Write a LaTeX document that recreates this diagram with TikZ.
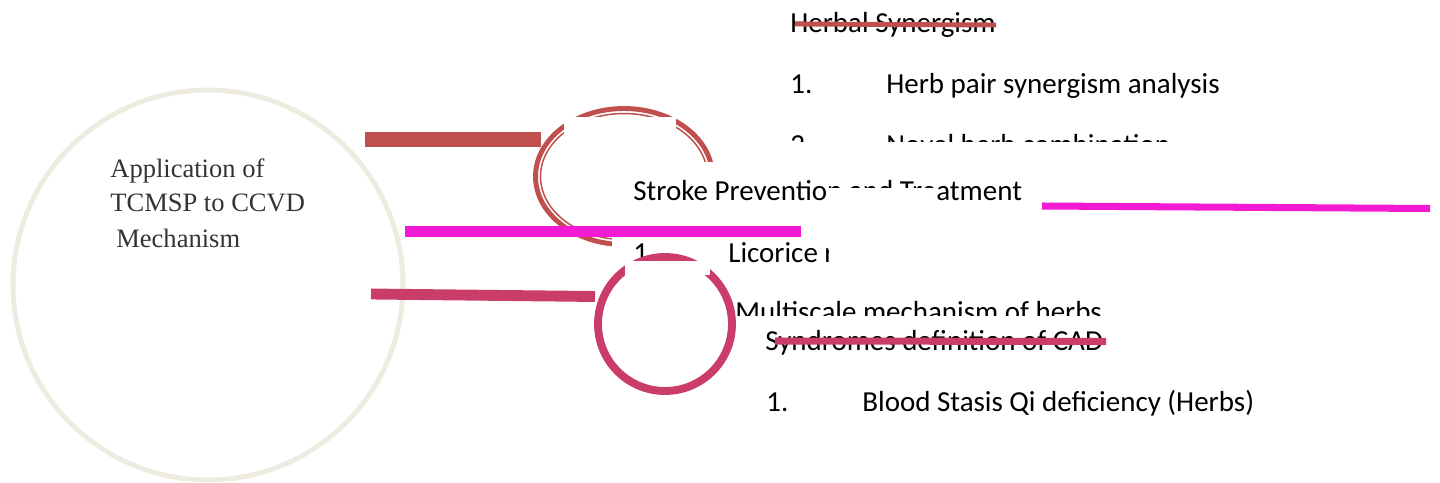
\documentclass[tikz,border=0pt]{standalone}
\usepackage{fontspec}
\setmainfont{Carlito}
\newfontfamily\serifface{Liberation Serif}
\usepackage{tikz}
\usetikzlibrary{positioning}
\usepackage{xcolor}
\definecolor{beige}{HTML}{EEECE1}
\definecolor{brick}{HTML}{C0504D}
\definecolor{fuchsia}{HTML}{F21AD2}
\definecolor{rosered}{HTML}{CB3D69}
\definecolor{inkgray}{HTML}{333333}

\tikzset{
    item/.style={anchor=base west, inner sep=0pt, font=\fontsize{16.5}{20}\selectfont},
    hub/.style={anchor=base west, inner sep=0pt, text=inkgray, font=\serifface\fontsize{15.1}{19.8}\selectfont},
    mask/.style={fill=white, draw=none}
}

\begin{document}
\begin{tikzpicture}[x=0.02cm, y=-0.02cm]
    \useasboundingbox (0, 0) rectangle (1440, 483);

    % Main circle
    \draw[beige, line width=2.8pt] (208, 285) circle[radius=3.9cm];
    \node[hub] (app1) at (110, 177) {Application of};
    \node[hub] (app2) at (110, 211) {TCMSP to CCVD};
    \node[hub] (app3) at (116, 247) {Mechanism};

    % Herbal synergism ring
    \draw[brick, line width=2.8pt] (624, 176.5) ellipse[x radius=1.77cm, y radius=1.36cm];
    \draw[brick, line width=0.85pt] (624, 176.5) ellipse[x radius=1.67cm, y radius=1.26cm];
    \fill[mask] (564, 117) rectangle (676, 137);

    % Stroke box
    \fill[mask] (612, 162) rectangle (1040, 250);
    \node[item] (stroke) at (633, 200) {Stroke Prevention and Treatment};
    \fill[mask] (829, 188) rectangle (935, 206);
    \node[item] (lico1) at (633, 262) {1.};
    \begin{scope}
        \clip (700, 230) rectangle (828, 280);
        \node[item] (lico) at (728, 262) {Licorice root};
    \end{scope}
    \begin{scope}
        \clip (700, 290) rectangle (1200, 315);
        \node[item] (multi) at (735, 321) {Multiscale mechanism of herbs};
    \end{scope}

    % Syndromes ring
    \draw[rosered, line width=4.5pt] (665, 324) circle[radius=1.34cm];
    \fill[mask] (625, 261) rectangle (710, 275);

    % Branch bars
    \draw[brick, line width=8.5pt] (365, 139.5) -- (541, 139.5);
    \draw[fuchsia, line width=6.2pt] (405, 231.5) -- (801, 231.5);
    \draw[fuchsia, line width=4pt] (1042, 206) -- (1430, 208.5);
    \draw[rosered, line width=6.2pt] (371, 294) -- (595, 296.5);

    % Herbal synergism list
    \node[item] (herbal) at (790, 33) {Herbal Synergism};
    \draw[brick, line width=2.8pt] (795, 24) -- (996, 25);
    \node[item] (herb1) at (790, 93) {1.};
    \node[item] (pair) at (886, 93) {Herb pair synergism analysis};
    \begin{scope}
        \clip (760, 100) rectangle (1300, 141);
        \node[item] (herb2) at (790, 154) {2.};
        \node[item] (novel) at (886, 154) {Novel herb combination};
    \end{scope}

    % Syndromes list
    \node[item] (synd) at (765, 350) {Syndromes definition of CAD};
    \draw[rosered, line width=4pt] (775, 341) -- (1106, 341.5);
    \node[item] (synd1) at (766, 411) {1.};
    \node[item] (blood) at (862, 411) {Blood Stasis Qi deficiency (Herbs)};
\end{tikzpicture}
\end{document}
